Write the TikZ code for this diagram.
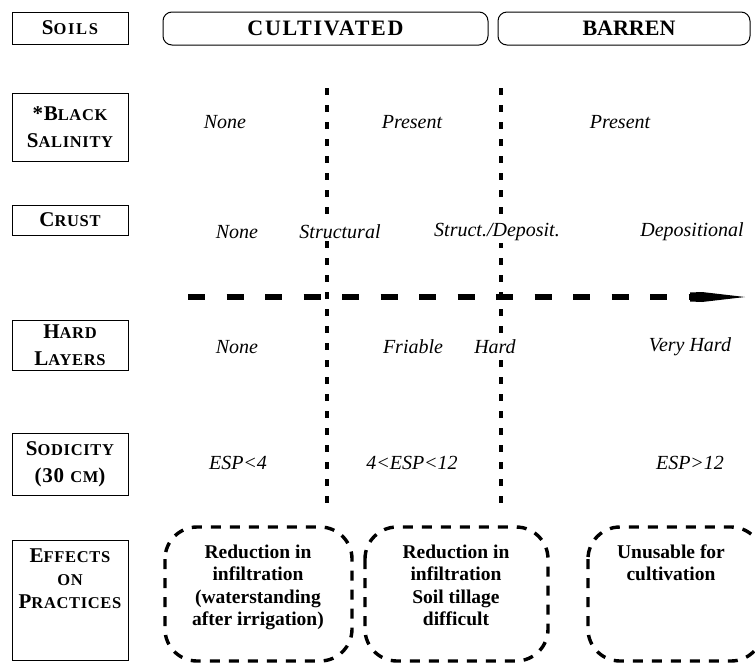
\documentclass[tikz,border=0pt]{standalone}
\usepackage{fontspec}
\setmainfont{Liberation Serif}
\begin{document}
\begin{tikzpicture}[x=1pt,y=-1pt,
  lbl/.style={draw,line width=0.9pt,minimum width=116pt,align=center,inner sep=1pt,font=\bfseries\fontsize{21}{27}\selectfont\addfontfeature{LetterSpace=4}},
  head/.style={draw,line width=1pt,rounded corners=9pt,minimum height=33pt,font=\bfseries\fontsize{22}{24}\selectfont},
  val/.style={font=\itshape\fontsize{20}{22}\selectfont,fill=white,inner sep=2pt},
  sep/.style={line width=3.4pt,dash pattern=on 7pt off 10pt},
  eff/.style={line width=3.4pt,dash pattern=on 10pt off 9pt,rounded corners=32pt},
  efftxt/.style={font=\bfseries\fontsize{19.5}{22.5}\selectfont,align=center}]
\useasboundingbox (0,0) rectangle (755,665);
\newcommand{\sm}[1]{{\fontsize{16.5}{16}\selectfont #1}}
% left labels
\node[lbl,minimum height=32pt] (soils) at (70,28) {\addfontfeature{LetterSpace=10}S\sm{OILS}};
\node[lbl,minimum height=68pt] (black) at (70,127) {*B\sm{LACK}\\S\sm{ALINITY}};
\node[lbl,minimum height=30pt] (crust) at (70,220) {C\sm{RUST}};
\node[lbl,minimum height=50pt] (hard) at (70,345) {H\sm{ARD}\\L\sm{AYERS}};
\node[lbl,minimum height=62pt] (sod) at (70,464) {S\sm{ODICITY}\\(30 \sm{CM})};
\node[lbl,minimum height=120pt,font=\bfseries\fontsize{21}{23}\selectfont\addfontfeature{LetterSpace=4},anchor=north] (effects) at (70,540) {\\[-6pt]E\sm{FFECTS}\\\sm{ON}\\P\sm{RACTICES}\\[24pt]};
% headings
\node[head,minimum width=325pt] (cult) at (325.5,28.5) {\addfontfeature{LetterSpace=8}CULTIVATED};
\node[head,minimum width=252pt] (barren) at (624,28.5) {\hspace{10pt}BARREN};
% separators
\coordinate (s1t) at (327,88); \coordinate (s1b) at (327,504);
\coordinate (s2t) at (501,88); \coordinate (s2b) at (501,503);
\draw[sep] (s1t) -- (s1b);
\draw[sep] (s2t) -- (s2b);
% arrow
\coordinate (a0) at (188,297); \coordinate (a1) at (692,297);
\draw[line width=6pt,dash pattern=on 17pt off 21.5pt] (a0) -- (a1);
\fill (690,292.5) -- (702,292) -- (745,297) -- (702,302) -- (690,301.5) -- cycle;
% values
\node[val] (bs1) at (225,122) {None};
\node[val] (bs2) at (412,122) {Present};
\node[val] (bs3) at (620,122) {Present};
\node[val] (cr1) at (237,232) {None};
\node[val] (cr2) at (340,232) {Structural};
\node[val] (cr3) at (497,232) {Struct./Deposit.};
\node[val] (cr4) at (692,232) {Depositional};
\node[val] (hl1) at (237,347) {None};
\node[val] (hl2) at (413,347) {Friable};
\node[val] (hl3) at (495,347) {Hard};
\node[val] (hl4) at (690,347) {Very Hard};
\node[val] (sd1) at (238,463) {ESP<4};
\node[val] (sd2) at (412,463) {4<ESP<12};
\node[val] (sd3) at (690,463) {ESP>12};
% effects boxes
\draw[eff] (165,527) rectangle (352,661);
\draw[eff] (365,527) rectangle (548,661);
\draw[eff] (588,527) rectangle (763,661);
\node[efftxt,anchor=north] (e1) at (258,541) {Reduction in\\infiltration\\(waterstanding\\after irrigation)};
\node[efftxt,anchor=north] (e2) at (456,541) {Reduction in\\infiltration\\Soil tillage\\difficult};
\node[efftxt,anchor=north] (e3) at (671,541) {Unusable for\\cultivation};
\end{tikzpicture}
\end{document}
